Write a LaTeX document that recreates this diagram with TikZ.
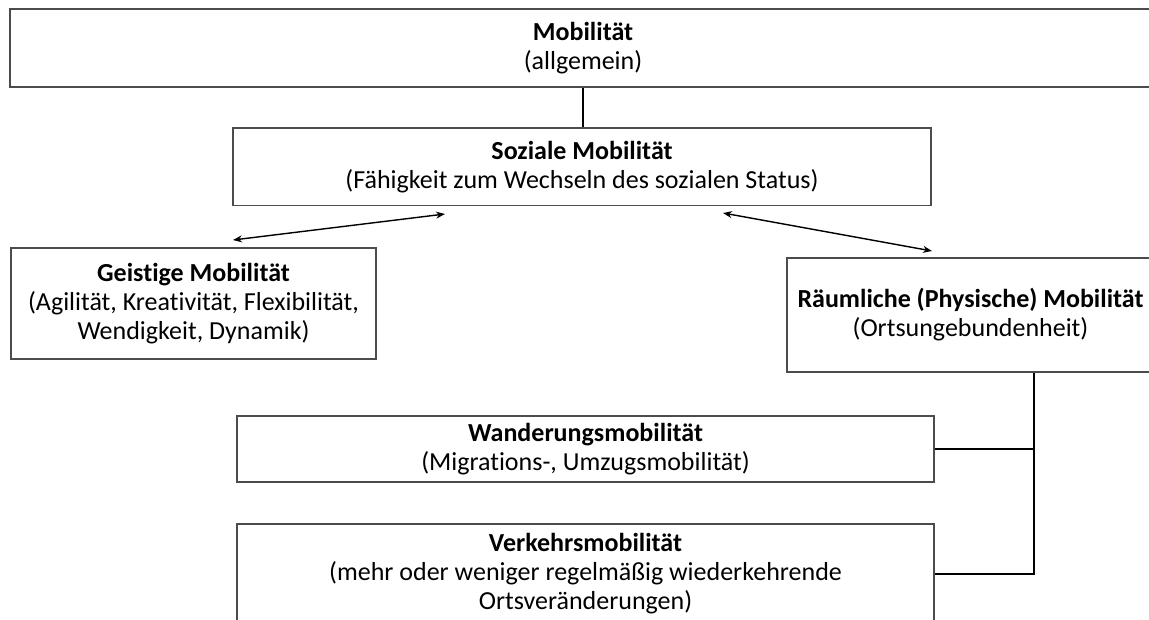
\documentclass[tikz,border=0pt]{standalone}
\usepackage{fontspec}
\setmainfont{Carlito}[Ligatures=NoCommon]
\usetikzlibrary{arrows.meta}
\begin{document}
\begin{tikzpicture}[x=1pt,y=-1pt,
  box/.style={draw=black!70, line width=1.1pt, rectangle, align=center, inner sep=0pt, fill=white, font=\fontsize{26}{29}\selectfont},
  conn/.style={line width=1.6pt, black},
  dblarrow/.style={line width=1.4pt, black, {Stealth[length=9pt,width=7pt]}-{Stealth[length=9pt,width=7pt]}}]
\useasboundingbox (0,0) rectangle (1149,619);
\node[box, minimum width=1146pt, minimum height=78pt] (top) at (583,48) {\textbf{Mobilität}\\(allgemein)};
\node[box, minimum width=698pt, minimum height=77.5pt] (soz) at (582,166.75) {\textbf{Soziale Mobilität}\\(Fähigkeit zum Wechseln des sozialen Status)};
\node[box, minimum width=365pt, minimum height=111pt] (geist) at (193.5,303.5) {\textbf{Geistige Mobilität}\\(Agilität, Kreativität, Flexibilität,\\Wendigkeit, Dynamik)};
\node[box, minimum width=367pt, minimum height=114pt] (raum) at (970.5,315) {\textbf{Räumliche (Physische) Mobilität}\\(Ortsungebundenheit)};
\node[box, minimum width=697pt, minimum height=66pt] (wand) at (585.5,449) {\textbf{Wanderungsmobilität}\\(Migrations-, Umzugsmobilität)};
\node[box, minimum width=697pt, minimum height=100pt] (verk) at (585.5,574) {\textbf{Verkehrsmobilität}\\(mehr oder weniger regelmäßig wiederkehrende\\Ortsveränderungen)};
\coordinate (bus) at (1034,0);
\coordinate (a1) at (445,214);
\coordinate (a2) at (233,240);
\coordinate (b1) at (723,213);
\coordinate (b2) at (932,251);
\draw[conn, line width=1.2pt] (top.south) -- (top.south |- soz.north);
\draw[dblarrow] (a1) -- (a2);
\draw[dblarrow] (b1) -- (b2);
\draw[conn] (raum.south -| bus) |- (verk.east);
\draw[conn] (wand.east) -- (wand.east -| bus);
\end{tikzpicture}
\end{document}
